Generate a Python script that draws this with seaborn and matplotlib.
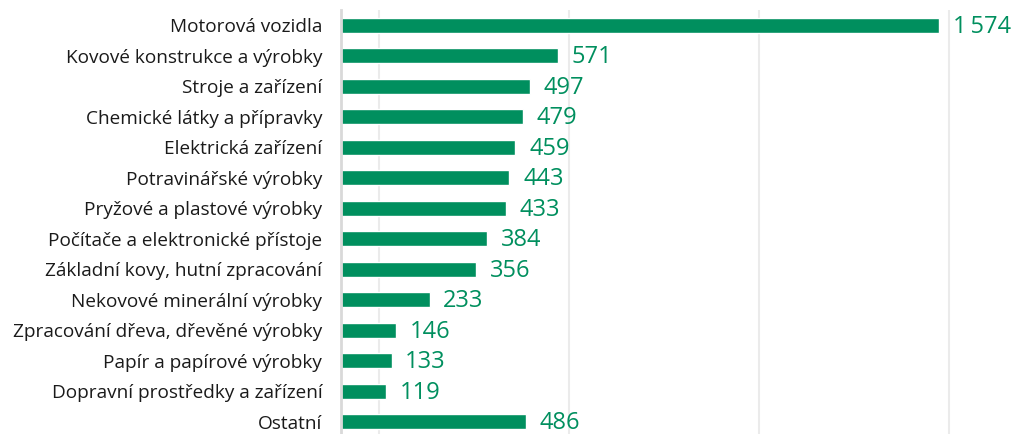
import matplotlib
matplotlib.use("Agg")
import matplotlib.pyplot as plt
import seaborn as sns
import pandas as pd

# data
obory = [
    "Motorová vozidla",
    "Kovové konstrukce a výrobky",
    "Stroje a zařízení",
    "Chemické látky a přípravky",
    "Elektrická zařízení",
    "Potravinářské výrobky",
    "Pryžové a plastové výrobky",
    "Počítače a elektronické přístoje",
    "Základní kovy, hutní zpracování",
    "Nekovové minerální výrobky",
    "Zpracování dřeva, dřevěné výrobky",
    "Papír a papírové výrobky",
    "Dopravní prostředky a zařízení",
    "Ostatní",
]
hodnoty = [1574, 571, 497, 479, 459, 443, 433, 384, 356, 233, 146, 133, 119, 486]
mrizka = [100, 600, 1100, 1600]

zelena = "#008f5e"

df = pd.DataFrame({"obor": obory, "hodnota": hodnoty})

sns.set_style("white")
plt.rcParams["font.family"] = ["Open Sans", "DejaVu Sans"]

fig = plt.figure(figsize=(10.11, 4.34), dpi=100)
ax = fig.add_axes([341 / 1011, -3 / 434, 670 / 1011, 427 / 434])

sns.barplot(data=df, y="obor", x="hodnota", orient="h", color=zelena,
            width=0.48, saturation=1, ax=ax)

ax.set_xlim(0, 1763)
ax.set_ylim(13.5, -0.5)
ax.set_xticks(mrizka)
ax.set_xticklabels([])
ax.grid(axis="x", color="#ebebeb", lw=1.5)
ax.set_axisbelow(True)
ax.tick_params(axis="both", length=0)
ax.tick_params(axis="y", pad=13.5, labelsize=13.7, labelcolor="#1a1a1a")
ax.set_xlabel("")
ax.set_ylabel("")

for s in ["top", "right", "bottom"]:
    ax.spines[s].set_visible(False)
ax.spines["left"].set_color("#d9d9d9")
ax.spines["left"].set_linewidth(2)

# popisky hodnot, tisíce oddělené úzkou mezerou
for i, v in enumerate(hodnoty):
    txt = f"{v:,}".replace(",", "\u2009")
    ax.text(v + 36, i + 0.05, txt, va="center", ha="left", fontsize=17, color=zelena)

fig.savefig("out.png", dpi=100)
